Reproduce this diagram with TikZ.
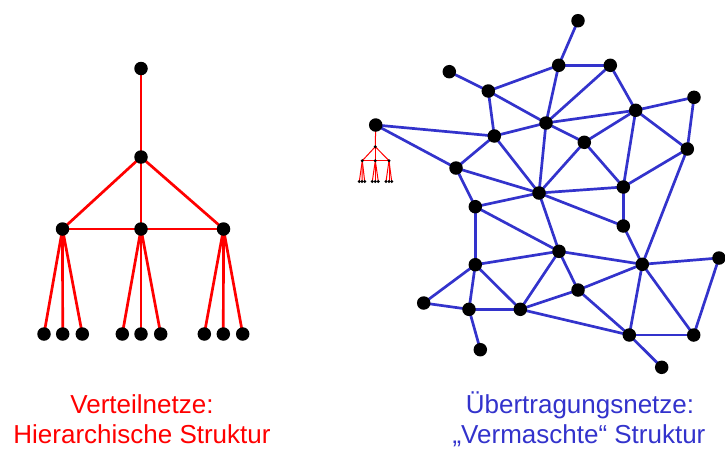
\documentclass[tikz,border=0pt]{standalone}
\usepackage{fontspec}
\setmainfont{Liberation Sans}
\usetikzlibrary{backgrounds}
\definecolor{meshblue}{RGB}{51,51,204}
\definecolor{treered}{RGB}{255,0,0}
\tikzset{
  dot/.style={circle,fill=black,inner sep=0pt,minimum size=13.5pt},
  tinydot/.style={circle,fill=black,inner sep=0pt,minimum size=3.2pt},
  redline/.style={draw=treered,line width=2.7pt},
  tinyred/.style={draw=treered,line width=1pt},
  blueline/.style={draw=meshblue,line width=2.7pt},
  caption/.style={font=\fontsize{26}{31.7}\selectfont,anchor=base,inner sep=0pt}
}
\begin{document}
\begin{tikzpicture}[x=1pt,y=-1pt]
\useasboundingbox (0,0) rectangle (725,448);
% ---------- hierarchical tree ----------
\node[dot] (tr) at (141,68.5) {};
\node[dot] (tm) at (141,157) {};
\node[dot] (ta) at (62.5,229) {};
\node[dot] (tb) at (141,229) {};
\node[dot] (tc) at (223.5,229) {};
\node[dot] (a1) at (44,334) {};
\node[dot] (a2) at (62.7,334) {};
\node[dot] (a3) at (82.3,334) {};
\node[dot] (b1) at (122.3,334) {};
\node[dot] (b2) at (141,334) {};
\node[dot] (b3) at (160.7,334) {};
\node[dot] (c1) at (204.3,334) {};
\node[dot] (c2) at (223.3,334) {};
\node[dot] (c3) at (242.7,334) {};
% ---------- mesh ----------
\node[dot] (A) at (578,20.7) {};
\node[dot] (B) at (558.7,65.3) {};
\node[dot] (C) at (610.3,65.3) {};
\node[dot] (D) at (449.3,71.7) {};
\node[dot] (E) at (488.3,91) {};
\node[dot] (F) at (694,97.3) {};
\node[dot] (G) at (635.7,110.3) {};
\node[dot] (H) at (375.7,125) {};
\node[dot] (I) at (546,123) {};
\node[dot] (J) at (494.3,136) {};
\node[dot] (K) at (584.3,142.3) {};
\node[dot] (L) at (687.3,149) {};
\node[dot] (M) at (456,168) {};
\node[dot] (N) at (623.3,187) {};
\node[dot] (O) at (539,193) {};
\node[dot] (P) at (475.3,206.7) {};
\node[dot] (Q) at (623.3,226) {};
\node[dot] (R) at (559,251.3) {};
\node[dot] (S) at (475.3,264.7) {};
\node[dot] (T) at (642.3,264.3) {};
\node[dot] (U) at (719,258) {};
\node[dot] (V) at (578,290) {};
\node[dot] (W) at (423.7,303) {};
\node[dot] (X) at (469,309.3) {};
\node[dot] (Y) at (520.3,309.3) {};
\node[dot] (Z) at (629.3,335) {};
\node[dot] (AA) at (693.7,335) {};
\node[dot] (AB) at (480.3,349.7) {};
\node[dot] (AC) at (661.7,367.3) {};
% ---------- mini tree ----------
\node[tinydot] (m0) at (375.3,146.7) {};
\node[tinydot] (ma) at (362.3,160.7) {};
\node[tinydot] (mb) at (375.3,160.7) {};
\node[tinydot] (mc) at (389,160.7) {};
\node[tinydot] (ma1) at (359.3,181.5) {};
\node[tinydot] (ma2) at (362,181.5) {};
\node[tinydot] (ma3) at (364.7,181.5) {};
\node[tinydot] (mb1) at (372.3,181.5) {};
\node[tinydot] (mb2) at (375.3,181.5) {};
\node[tinydot] (mb3) at (378.3,181.5) {};
\node[tinydot] (mc1) at (386,181.5) {};
\node[tinydot] (mc2) at (389,181.5) {};
\node[tinydot] (mc3) at (391.7,181.5) {};
% ---------- connectors ----------
\begin{scope}[on background layer]
  \draw[redline] (tr.center) -- (tm.center);
  \foreach \u/\v in {tm/ta,tm/tb,tm/tc,ta/tb,tb/tc,ta/a1,ta/a2,ta/a3,tb/b1,tb/b2,tb/b3,tc/c1,tc/c2,tc/c3}
    \draw[redline] (\u.center) -- (\v.center);
  \foreach \u/\v in {A/B,B/C,B/E,B/I,C/I,C/G,D/E,E/I,E/J,H/J,H/M,J/I,J/M,J/O,I/O,I/G,I/K,K/G,K/N,K/O,G/F,G/L,G/N,F/L,L/N,L/T,M/O,M/P,O/N,N/Q,P/O,P/R,P/S,O/R,O/Q,Q/T,S/R,R/T,R/V,R/Y,T/U,T/V,T/Z,T/AA,U/AA,S/W,S/X,S/Y,W/X,X/Y,X/AB,Y/V,Y/Z,V/Z,Z/AA,Z/AC}
    \draw[blueline] (\u.center) -- (\v.center);
  \foreach \u/\v in {H/m0,m0/ma,m0/mb,m0/mc,ma/mb,mb/mc,ma/ma1,ma/ma2,ma/ma3,mb/mb1,mb/mb2,mb/mb3,mc/mc1,mc/mc2,mc/mc3}
    \draw[tinyred] (\u.center) -- (\v.center);
\end{scope}
% ---------- captions ----------
\node[caption,text=treered] (l1) at (142,413) {Verteilnetze:};
\node[caption,text=treered] (l2) at (142,443.5) {Hierarchische Struktur};
\node[caption,text=meshblue] (r1) at (580,413) {Übertragungsnetze:};
\node[caption,text=meshblue] (r2) at (579,443.5) {„Vermaschte“ Struktur};
\end{tikzpicture}
\end{document}
